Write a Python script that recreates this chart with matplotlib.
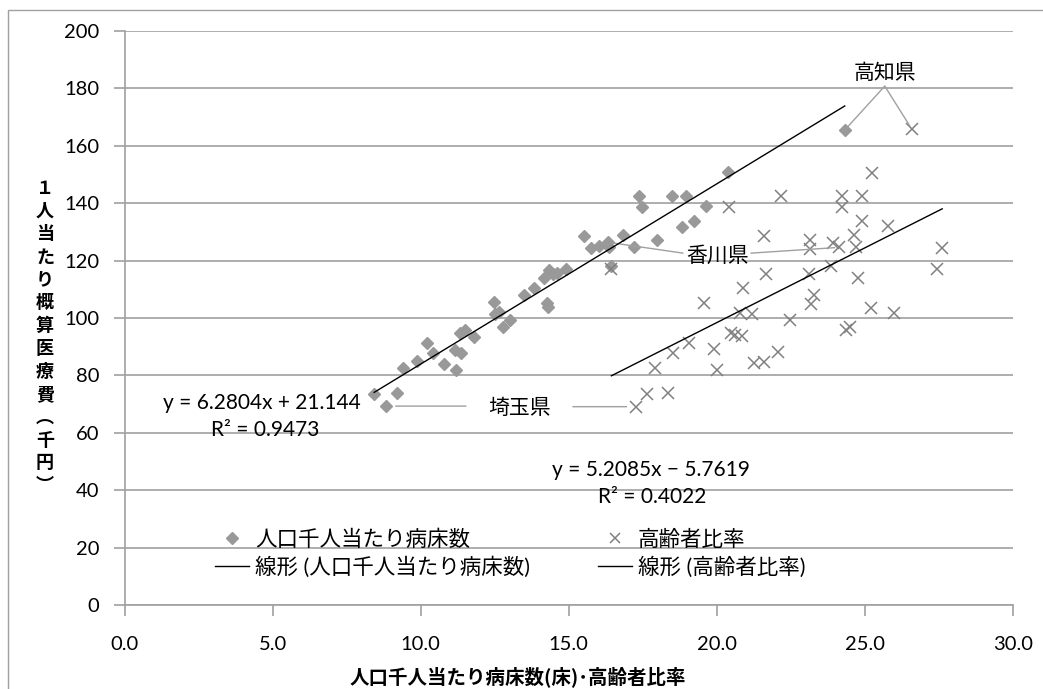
import matplotlib
matplotlib.use("Agg")
import numpy as np
import matplotlib.pyplot as plt
from matplotlib.lines import Line2D
from matplotlib.patches import Rectangle

plt.rcParams['font.family'] = ['Lato', 'Noto Sans CJK JP', 'DejaVu Sans']

# 人口千人当たり病床数 vs 1人当たり概算医療費
beds = [8.43, 8.83, 9.20, 9.41, 9.87, 10.20, 10.43, 10.80, 11.19, 11.16, 11.36, 11.33,
        11.50, 11.79, 12.46, 12.50, 12.66, 12.78, 13.02, 13.50, 13.82, 14.29, 14.27,
        14.18, 14.35, 14.47, 14.61, 14.91, 15.51, 15.74, 16.02, 16.32, 16.36, 16.84,
        17.20, 16.41, 17.37, 17.46, 17.97, 18.50, 18.97, 18.84, 19.24, 19.65, 20.37, 24.32]
cost_beds = [73.5, 69.3, 74.0, 82.5, 85.0, 91.2, 87.7, 83.9, 81.9, 88.9, 87.9, 94.7,
             95.8, 93.5, 105.5, 101.4, 102.2, 96.8, 99.3, 108.0, 110.6, 104.0, 105.1,
             114.0, 116.7, 115.2, 115.6, 117.0, 128.7, 124.5, 125.1, 126.4, 124.9, 128.9,
             124.9, 118.2, 142.6, 138.6, 127.2, 142.6, 142.5, 131.8, 133.9, 139.0, 151.0, 165.5]

# 高齢者比率 vs 1人当たり概算医療費
ratio = [25.25, 22.15, 24.22, 24.91, 24.22, 20.42, 24.91, 25.78, 21.58, 23.13, 23.13, 23.92,
         24.63, 24.69, 24.12, 27.61, 27.44, 16.44, 21.66, 23.11, 23.86, 24.76, 20.87, 19.55,
         23.28, 23.19, 25.19, 25.97, 20.79, 21.19, 22.47, 20.47, 20.85, 20.62, 24.37, 24.49,
         19.07, 18.53, 19.91, 17.91, 20.00, 21.27, 21.60, 22.06, 17.65, 18.36, 17.28, 26.59]
cost_ratio = [150.6, 142.5, 142.6, 142.6, 138.8, 138.6, 133.9, 132.1, 128.7, 127.2, 123.9, 126.0,
              128.8, 124.9, 124.6, 124.5, 117.0, 117.0, 115.3, 115.2, 118.1, 113.8, 110.6, 105.1,
              108.0, 104.8, 103.4, 101.9, 101.6, 101.3, 99.3, 94.9, 93.8, 94.1, 95.8, 97.0,
              91.2, 87.9, 89.1, 82.5, 81.9, 84.2, 84.8, 88.0, 73.5, 73.7, 69.1, 165.7]

# 近似直線の係数
fit_beds = (6.2804, 21.144, 0.9473)
fit_ratio = (5.2085, -5.7619, 0.4022)

W, H = 1043, 689
fig = plt.figure(figsize=(W / 100, H / 100), dpi=100)
ax = fig.add_axes([124.5 / W, 1 - 605 / H, (1013 - 124.5) / W, (605 - 31) / H])

grid_c = '#a0a0a0'
ax.set_xlim(0, 30)
ax.set_ylim(0, 200)
ax.set_xticks(np.arange(0, 31, 5))
ax.set_xticklabels([f"{v:.1f}" for v in np.arange(0, 31, 5)])
ax.set_yticks(np.arange(0, 201, 20))
ax.yaxis.grid(True, color=grid_c, lw=1.2)
ax.set_axisbelow(True)
for s in ['top', 'right']:
    ax.spines[s].set_visible(False)
for s in ['left', 'bottom']:
    ax.spines[s].set_color(grid_c)
    ax.spines[s].set_linewidth(1.2)
ax.tick_params(axis='both', colors=grid_c, labelcolor='black', labelsize=14.5,
               length=8, width=1.2, direction='out')
ax.tick_params(axis='y', pad=10)
ax.tick_params(axis='x', pad=14)

# 散布図
ax.plot(beds, cost_beds, linestyle='none', marker='D', ms=6.5, color='#999999', zorder=3)
ax.plot(ratio, cost_ratio, linestyle='none', marker='x', ms=8, mew=1.1, color='#808080', zorder=3)

# 近似直線
xb = np.array([min(beds), max(beds)])
ax.plot(xb, fit_beds[0] * xb + fit_beds[1], color='black', lw=1, zorder=4)
xr = np.array([min(ratio), max(ratio)])
ax.plot(xr, fit_ratio[0] * xr + fit_ratio[1], color='black', lw=1, zorder=4)

ax.text(4.64, 70.4, f"y = {fit_beds[0]}x + {fit_beds[1]}", fontsize=15, ha='center', va='center')
ax.text(4.74, 61.0, f"R² = {fit_beds[2]}", fontsize=15, ha='center', va='center')
ax.text(17.78, 47.0, f"y = {fit_ratio[0]}x − {abs(fit_ratio[1])}", fontsize=15, ha='center', va='center')
ax.text(17.81, 37.6, f"R² = {fit_ratio[2]}", fontsize=15, ha='center', va='center')

# 都道府県ラベル
lc = '#a0a0a0'
ax.text(25.67, 182.0, "高知県", fontsize=15, ha='center', va='bottom')
for px, py in [(beds[-1], cost_beds[-1]), (ratio[-1], cost_ratio[-1])]:
    ax.annotate("", xy=(px, py), xytext=(25.67, 180.8),
                arrowprops=dict(arrowstyle='-', color=lc, lw=1, shrinkA=0, shrinkB=3))
ax.text(20.04, 121.6, "香川県", fontsize=15, ha='center', va='center')
ax.annotate("", xy=(beds[31], cost_beds[31]), xytext=(18.86, 122.6),
            arrowprops=dict(arrowstyle='-', color=lc, lw=1, shrinkA=0, shrinkB=3))
ax.annotate("", xy=(ratio[14], cost_ratio[14]), xytext=(21.15, 122.6),
            arrowprops=dict(arrowstyle='-', color=lc, lw=1, shrinkA=0, shrinkB=3))
ax.text(13.35, 68.6, "埼玉県", fontsize=15, ha='center', va='center')
ax.annotate("", xy=(beds[1], cost_beds[1]), xytext=(11.53, cost_beds[1]),
            arrowprops=dict(arrowstyle='-', color=lc, lw=1, shrinkA=0, shrinkB=7))
ax.annotate("", xy=(ratio[46], cost_ratio[46]), xytext=(15.14, cost_ratio[46]),
            arrowprops=dict(arrowstyle='-', color=lc, lw=1, shrinkA=0, shrinkB=7))

# 凡例
h1 = Line2D([], [], linestyle='none', marker='D', ms=6, color='#999999')
h2 = Line2D([], [], color='black', lw=1)
h3 = Line2D([], [], linestyle='none', marker='x', ms=7, mew=1.1, color='#808080')
h4 = Line2D([], [], color='black', lw=1)
leg_kw = dict(frameon=False, fontsize=15.5, handlelength=1.6, handletextpad=0.25,
              labelspacing=0.3, borderaxespad=0, borderpad=0, loc='center left')
leg1 = ax.legend([h1, h2], ["人口千人当たり病床数", "線形 (人口千人当たり病床数)"],
                 bbox_to_anchor=((215 - 124.5) / 888.5, (605 - 553.5) / 574), **leg_kw)
ax.add_artist(leg1)
ax.legend([h3, h4], ["高齢者比率", "線形 (高齢者比率)"],
          bbox_to_anchor=((598 - 124.5) / 888.5, (605 - 553.5) / 574), **leg_kw)

# 軸タイトル
ylab = "１人当たり概算医療費︵千円︶"
fig.text(45 / W, 1 - 337 / H, "\n".join(ylab), fontsize=13, fontweight='bold',
         ha='center', va='center', linespacing=1.26, family='Noto Sans CJK JP')
fig.text(518 / W, 1 - 677 / H, "人口千人当たり病床数(床)･高齢者比率", fontsize=14,
         fontweight='bold', ha='center', va='center', family='Noto Sans CJK JP')

# 外枠
fig.add_artist(Rectangle((8 / W, -0.1), 1.2, 1 - 10 / H + 0.1, fill=False,
                         ec=grid_c, lw=1, transform=fig.transFigure))

fig.savefig("out.png", dpi=100)
